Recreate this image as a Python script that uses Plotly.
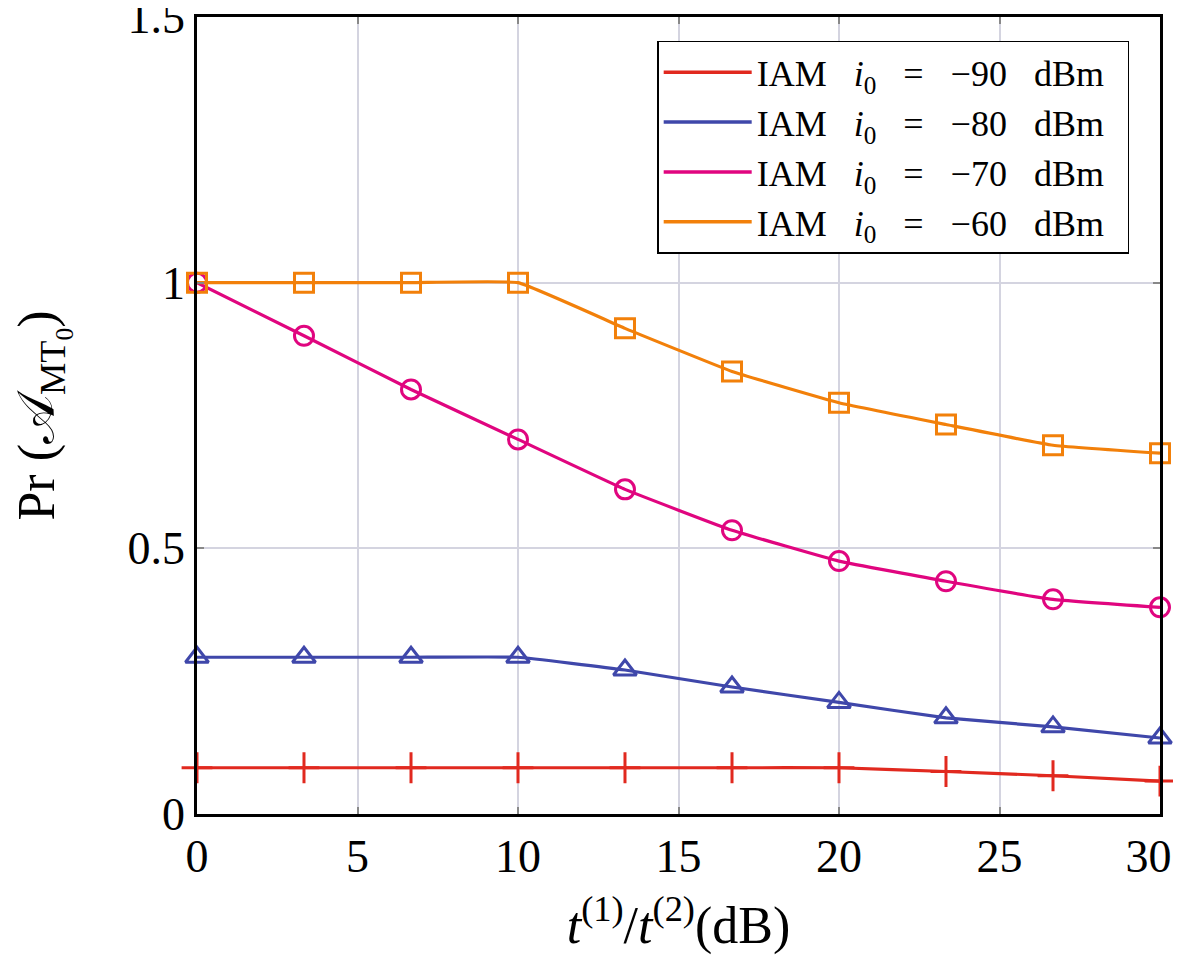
import plotly.graph_objects as go

x_db = [0, 3.333, 6.667, 10, 13.333, 16.667, 20, 23.333, 26.667, 30]
iam_m90 = [0.087, 0.087, 0.087, 0.087, 0.087, 0.087, 0.087, 0.080, 0.072, 0.062]
iam_m80 = [0.295, 0.295, 0.295, 0.295, 0.271, 0.239, 0.210, 0.181, 0.164, 0.143]
iam_m70 = [1.0, 0.900, 0.799, 0.705, 0.611, 0.534, 0.476, 0.438, 0.404, 0.389]
iam_m60 = [1.0, 1.0, 1.0, 1.0, 0.914, 0.833, 0.774, 0.733, 0.694, 0.679]
x_ticks = [0, 5, 10, 15, 20, 25, 30]
x_ticktext = ["0", "5", "10", "15", "20", "25", "30\u2002"]
y_ticks = [0, 0.5, 1, 1.5]
y_ticktext = ["0", "0.5", "1", "1.5"]
g = "\u2002\u00a0"
labels = [f"IAM{g}<i>i</i><sub>0</sub>{g}={g}\u2212{v}{g}dBm\u2002" for v in (90, 80, 70, 60)]

series = [iam_m90, iam_m80, iam_m70, iam_m60]
colors = ["#e1291f", "#3f47aa", "#e0057f", "#f2800a"]
symbols = ["cross-thin-open", "triangle-up-open", "circle-open", "square-open"]
sizes = [22, 20, 19, 19]

FONT = "Liberation Serif"
fig = go.Figure()
for ys, c, s, sz in zip(series, colors, symbols, sizes):
    fig.add_trace(go.Scatter(x=x_db, y=ys, mode="lines+markers", showlegend=False,
                             line=dict(color=c, width=3.2, shape="spline", smoothing=0.3),
                             marker=dict(symbol=s, size=sz, color=c, line=dict(color=c, width=3)),
                             cliponaxis=False))
for c, lab in zip(colors, labels):
    fig.add_trace(go.Scatter(x=[None], y=[None], mode="lines", name=lab,
                             line=dict(color=c, width=3.5)))

fig.update_layout(
    width=1181, height=963,
    margin=dict(l=189, r=29, t=9, b=157),
    plot_bgcolor="white", paper_bgcolor="white",
    font=dict(family=FONT, color="black", size=46),
    legend=dict(x=0.968, y=0.970, xanchor="right", yanchor="top",
                bordercolor="black", borderwidth=1.5, bgcolor="white",
                font=dict(size=36, family=FONT), tracegroupgap=0, itemwidth=88),
    xaxis=dict(range=[0, 30], tickvals=x_ticks, ticktext=x_ticktext, automargin=False,
               ticklabeloverflow="allow",
               showgrid=True, gridcolor="#d4d4e0", gridwidth=1.5,
               ticks="inside", ticklen=7, tickcolor="#888888", tickwidth=1.5,
               showline=True, linecolor="black", linewidth=2.5, mirror="allticks",
               zeroline=False, tickfont=dict(size=46),
               title=dict(text="<i>t</i><sup>(1)</sup>/<i>t</i><sup>(2)</sup>(dB)",
                          font=dict(size=52), standoff=26)),
    yaxis=dict(range=[0, 1.5], tickvals=y_ticks, ticktext=y_ticktext,
               automargin=False, ticklabeloverflow="allow",
               showgrid=True, gridcolor="#d4d4e0", gridwidth=1.5,
               ticks="inside", ticklen=7, tickcolor="#888888", tickwidth=1.5,
               showline=True, linecolor="black", linewidth=2.5, mirror="allticks",
               zeroline=False, tickfont=dict(size=46),
               title=dict(text="Pr (\U0001D49C<sub>MT<sub>0</sub></sub>)",
                          font=dict(size=52), standoff=82)),
)
fig.write_html("out.html")
